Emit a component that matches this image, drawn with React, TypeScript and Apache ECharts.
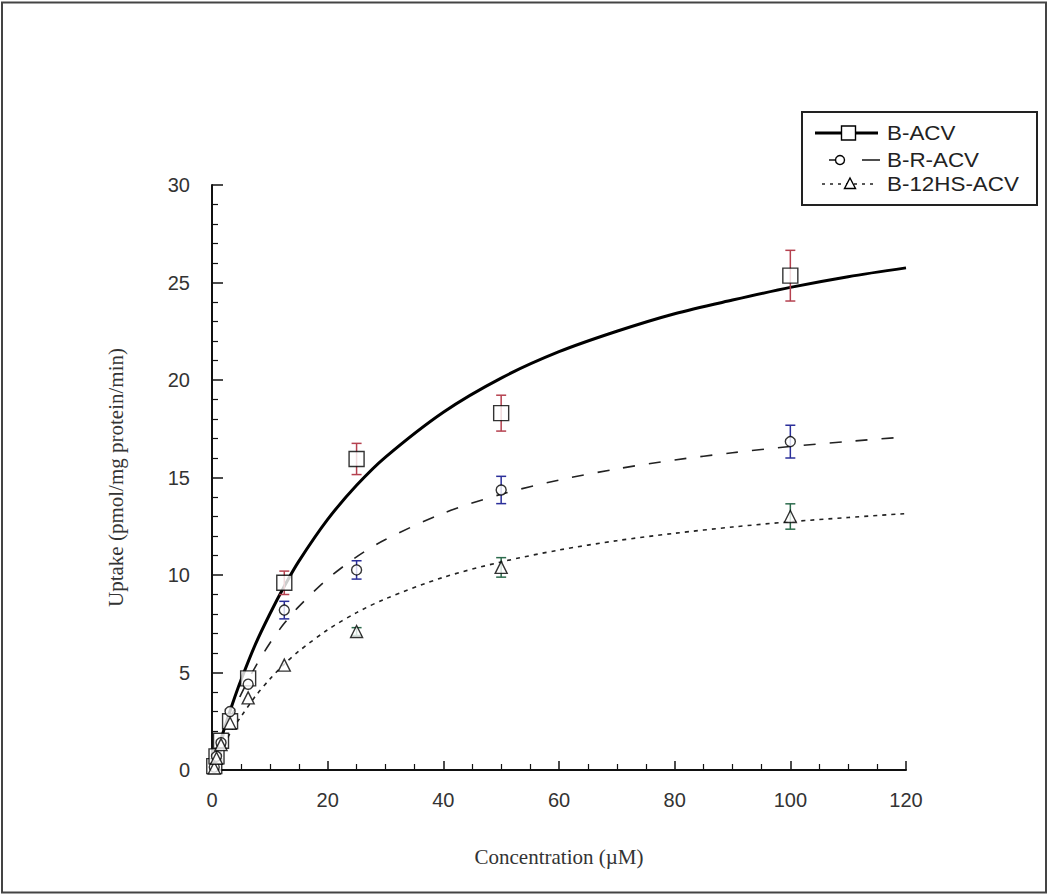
import React, { useEffect, useRef } from "react";
import * as echarts from "echarts";

// Measured points
const conc = [0.39, 0.78, 1.56, 3.125, 6.25, 12.5, 25, 50, 100];
const bAcv = [0.2, 0.7, 1.5, 2.5, 4.7, 9.6, 15.95, 18.3, 25.35];
const bAcvErr = [0, 0, 0, 0, 0, 0.6, 0.8, 0.92, 1.3];
const bRAcv = [0.15, 0.7, 1.4, 3.0, 4.4, 8.2, 10.26, 14.36, 16.84];
const bRAcvErr = [0, 0, 0, 0, 0, 0.45, 0.47, 0.7, 0.84];
const b12Acv = [0.1, 0.6, 1.3, 2.4, 3.7, 5.38, 7.1, 10.39, 13.0];
const b12AcvErr = [0, 0, 0, 0, 0, 0, 0.2, 0.5, 0.65];

// Fitted curves
const curveX = [0, 1, 2, 3.5, 5, 7.5, 10, 12.5, 15, 20, 25, 30, 40, 50, 60, 70, 80, 90, 100, 110, 120];
const curveBAcv = [0, 1.03, 2.0, 3.36, 4.6, 6.44, 8.0, 9.42, 10.7, 12.85, 14.6, 16.05, 18.35, 20.1, 21.45, 22.5, 23.4, 24.1, 24.75, 25.3, 25.75];
const curveBRAcv = [0, 0.92, 1.75, 2.86, 3.87, 5.29, 6.5, 7.52, 8.38, 9.8, 10.93, 11.82, 13.17, 14.14, 14.87, 15.44, 15.9, 16.27, 16.59, 16.85, 17.08];
const curveB12Acv = [0, 0.64, 1.22, 2.09, 2.73, 3.78, 4.66, 5.43, 6.09, 7.19, 8.07, 8.78, 9.88, 10.67, 11.28, 11.76, 12.14, 12.46, 12.73, 12.95, 13.15];

const seriesNames = ["B-ACV", "B-R-ACV", "B-12HS-ACV"];
const xTicks = { min: 0, max: 120, interval: 20 };
const yTicks = { min: 0, max: 30, interval: 5 };

const pairs = (xs: number[], ys: number[]) => xs.map((x, i) => [x, ys[i]]);
const errData = (ys: number[], es: number[]) =>
  conc.map((x, i) => [x, ys[i] - es[i], ys[i] + es[i]]).filter((_, i) => es[i] > 0);

const errSeries = (ys: number[], es: number[], color: string) => ({
  type: "custom",
  z: 3,
  data: errData(ys, es),
  renderItem: (params: any, api: any) => {
    const x = api.value(0);
    const lo = api.coord([x, api.value(1)]);
    const hi = api.coord([x, api.value(2)]);
    const cap = 5;
    const st = { stroke: color, lineWidth: 1.5 };
    return {
      type: "group",
      children: [
        { type: "line", shape: { x1: lo[0], y1: lo[1], x2: hi[0], y2: hi[1] }, style: st },
        { type: "line", shape: { x1: lo[0] - cap, y1: lo[1], x2: lo[0] + cap, y2: lo[1] }, style: st },
        { type: "line", shape: { x1: hi[0] - cap, y1: hi[1], x2: hi[0] + cap, y2: hi[1] }, style: st },
      ],
    };
  },
});

const legendFont = "Liberation Sans, Arial, sans-serif";
const legendText = (name: string, y: number) => ({
  type: "group",
  z: 20,
  x: 887,
  y,
  scaleX: 1.12,
  children: [
    {
      type: "text",
      z: 20,
      style: { text: name, x: 0, y: 0, fontFamily: legendFont, fontSize: 20, fill: "#222", verticalAlign: "middle", align: "left" },
    },
  ],
});

export default function App() {
  const ref = useRef<HTMLDivElement>(null);
  useEffect(() => {
    document.body.style.margin = "0";
    const chart = echarts.init(ref.current!, null, { renderer: "svg" });
    const mk = { color: "#fff", borderColor: "#000", borderWidth: 1.4 };
    chart.setOption({
      animation: false,
      backgroundColor: "#fff",
      grid: { left: 212, top: 185, right: 144, bottom: 126, containLabel: false },
      xAxis: {
        type: "value",
        min: xTicks.min,
        max: xTicks.max,
        interval: xTicks.interval,
        name: "Concentration (\u00b5M)",
        nameLocation: "middle",
        nameGap: 76,
        nameTextStyle: { fontFamily: "Liberation Serif, Times New Roman, serif", fontSize: 21, color: "#333" },
        axisLine: { lineStyle: { color: "#111", width: 2 } },
        axisTick: { inside: true, length: 9, lineStyle: { color: "#111", width: 1.5 } },
        minorTick: { show: true, splitNumber: 4, length: 6, lineStyle: { color: "#111", width: 1.2 } },
        splitLine: { show: false },
        axisLabel: { margin: 20, fontFamily: "Liberation Sans, Arial, sans-serif", fontSize: 20, color: "#333" },
      },
      yAxis: {
        type: "value",
        min: yTicks.min,
        max: yTicks.max,
        interval: yTicks.interval,
        name: "Uptake (pmol/mg protein/min)",
        nameLocation: "middle",
        nameGap: 86,
        nameTextStyle: { fontFamily: "Liberation Serif, Times New Roman, serif", fontSize: 21, color: "#333" },
        axisLine: { show: true, lineStyle: { color: "#111", width: 2 } },
        axisTick: { show: true, inside: true, length: 11, lineStyle: { color: "#111", width: 1.5 } },
        minorTick: { show: true, splitNumber: 5, length: 6, lineStyle: { color: "#111", width: 1.2 } },
        splitLine: { show: false },
        axisLabel: { margin: 22, fontFamily: "Liberation Sans, Arial, sans-serif", fontSize: 20, color: "#333" },
      },
      series: [
        {
          name: seriesNames[0], type: "line", z: 2, showSymbol: false, smooth: 0.3,
          data: pairs(curveX, curveBAcv), lineStyle: { color: "#000", width: 3 },
        },
        {
          name: seriesNames[1], type: "line", z: 2, showSymbol: false, smooth: 0.3,
          data: pairs(curveX, curveBRAcv), lineStyle: { color: "#222", width: 1.6, type: [12, 14] },
        },
        {
          name: seriesNames[2], type: "line", z: 2, showSymbol: false, smooth: 0.3,
          data: pairs(curveX, curveB12Acv), lineStyle: { color: "#222", width: 1.6, type: [4, 5] },
        },
        errSeries(bAcv, bAcvErr, "#b5414f"),
        errSeries(bRAcv, bRAcvErr, "#2b2f9a"),
        errSeries(b12Acv, b12AcvErr, "#2c6b4c"),
        { type: "scatter", z: 4, symbol: "rect", symbolSize: 15, data: pairs(conc, bAcv), itemStyle: mk },
        { type: "scatter", z: 4, symbol: "circle", symbolSize: 10, data: pairs(conc, bRAcv), itemStyle: mk },
        { type: "scatter", z: 4, symbol: "triangle", symbolSize: 12, data: pairs(conc, b12Acv), itemStyle: mk },
      ],
      graphic: [
        { type: "rect", z: 0, shape: { x: 2, y: 2.5, width: 1044, height: 890 }, style: { fill: "none", stroke: "#444", lineWidth: 2 } },
        { type: "rect", z: 10, shape: { x: 802, y: 112, width: 235, height: 93 }, style: { fill: "#fff", stroke: "#222", lineWidth: 2 } },
        // row 1
        { type: "line", z: 11, shape: { x1: 815, y1: 133, x2: 878, y2: 133 }, style: { stroke: "#000", lineWidth: 3 } },
        { type: "rect", z: 12, shape: { x: 841.5, y: 126, width: 14, height: 14 }, style: { fill: "#fff", stroke: "#000", lineWidth: 1.4 } },
        legendText(seriesNames[0], 133),
        // row 2
        { type: "line", z: 11, shape: { x1: 829, y1: 160, x2: 836, y2: 160 }, style: { stroke: "#222", lineWidth: 1.6 } },
        { type: "line", z: 11, shape: { x1: 862, y1: 160, x2: 880, y2: 160 }, style: { stroke: "#222", lineWidth: 1.6 } },
        { type: "circle", z: 12, shape: { cx: 840, cy: 160, r: 4.5 }, style: { fill: "#fff", stroke: "#000", lineWidth: 1.4 } },
        legendText(seriesNames[1], 160),
        // row 3
        { type: "line", z: 11, shape: { x1: 822, y1: 184, x2: 878, y2: 184 }, style: { stroke: "#222", lineWidth: 1.6, lineDash: [3, 5] } },
        { type: "polygon", z: 12, shape: { points: [[850, 178], [855.5, 188.5], [844.5, 188.5]] }, style: { fill: "#fff", stroke: "#000", lineWidth: 1.4 } },
        legendText(seriesNames[2], 184),
      ],
    });
    return () => chart.dispose();
  }, []);
  return <div ref={ref} style={{ width: 1050, height: 896 }} />;
}
